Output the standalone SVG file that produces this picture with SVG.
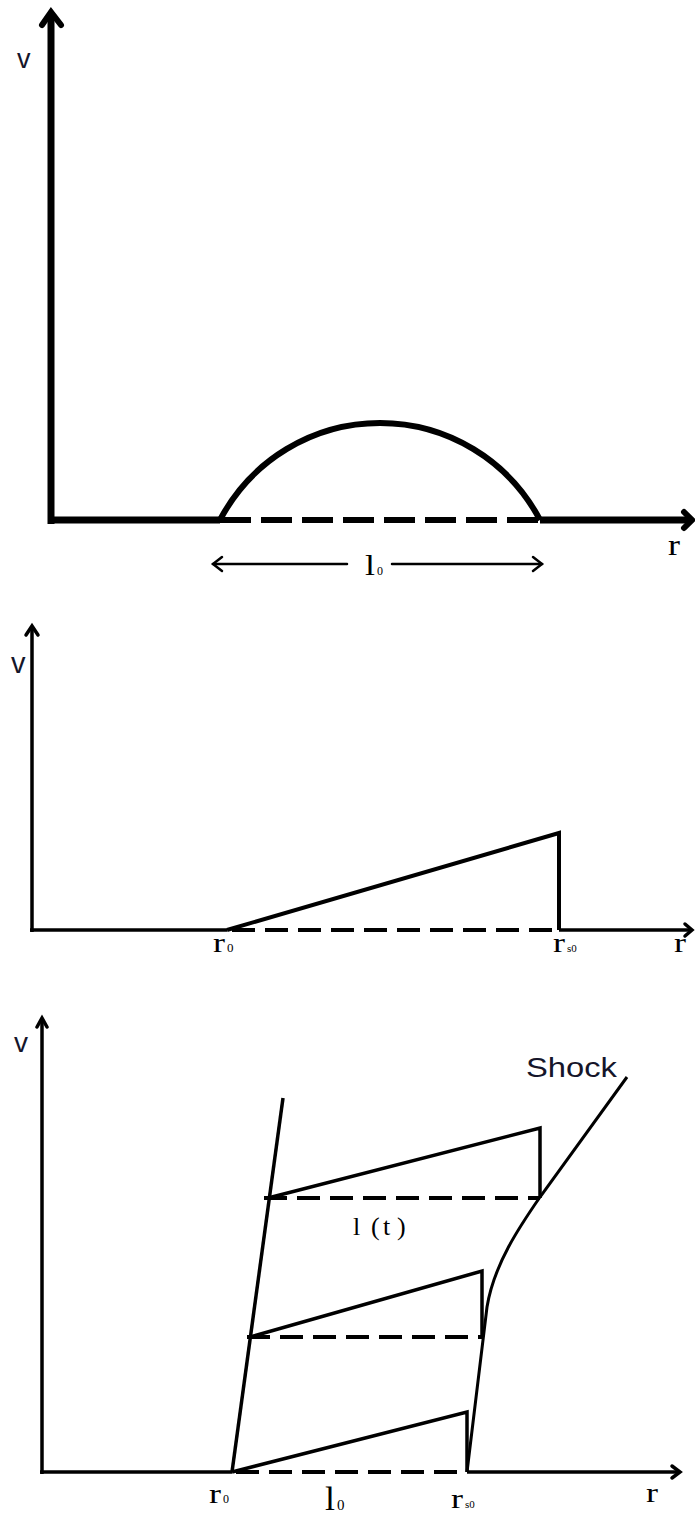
<svg xmlns="http://www.w3.org/2000/svg" width="695" height="1515" viewBox="0 0 695 1515">
<style>
.ax1{stroke:#000;stroke-width:7;fill:none;stroke-linecap:butt}
.ax{stroke:#000;stroke-width:3.5;fill:none}
.hd1{stroke:#000;stroke-width:6;fill:none;stroke-linejoin:miter;stroke-linecap:round}
.hd{stroke:#000;stroke-width:3.5;fill:none;stroke-linecap:round}
.ds1{stroke:#000;stroke-width:6;stroke-dasharray:31 10;fill:none}
.ds{stroke:#000;stroke-width:4;stroke-dasharray:23 10;fill:none}
.cv{stroke:#000;stroke-width:4;fill:none;stroke-linejoin:miter}
.dim{stroke:#000;stroke-width:2.5;fill:none;stroke-linecap:round}
.sv{font-family:"Liberation Sans",Arial,sans-serif;fill:#15152a}
.se{font-family:"Liberation Serif","Times New Roman",serif;fill:#000}
</style>
<g id="panel1">
  <g id="p1-axes">
    <line class="ax1" x1="51" y1="524" x2="51" y2="14"/>
    <polyline class="hd1" points="42,25 51,12 61,25"/>
    <line class="ax1" x1="48" y1="520" x2="220" y2="520"/>
    <line class="ax1" x1="540" y1="520" x2="690" y2="520"/>
    <polyline class="hd1" points="684,512 692,520 684,528"/>
  </g>
  <g id="p1-curve">
    <path class="cv" style="stroke-width:6" d="M220,520 A180.5,180.5 0 0 1 540,520"/>
    <line class="ds1" x1="220" y1="520" x2="540" y2="520"/>
  </g>
  <g id="p1-dim">
    <line class="dim" x1="213" y1="564" x2="347" y2="564"/>
    <line class="dim" x1="392" y1="564" x2="542" y2="564"/>
    <polyline class="dim" points="222,557 213,564 222,571"/>
    <polyline class="dim" points="533,557 542,564 533,571"/>
  </g>
  <text class="sv" x="17" y="68" font-size="27">v</text>
  <text class="se" x="668" y="555" font-size="29" textLength="12" lengthAdjust="spacingAndGlyphs">r</text>
  <text class="se" x="365" y="575" font-size="30" textLength="10" lengthAdjust="spacingAndGlyphs">l</text>
  <text class="se" x="377" y="575" font-size="12">0</text>
</g>
<g id="panel2">
  <g id="p2-axes">
    <line class="ax" x1="32" y1="932" x2="32" y2="627"/>
    <polyline class="hd" points="26,635 32,626 38,635"/>
    <line class="ax" x1="30" y1="930" x2="227" y2="930"/>
    <line class="ax" x1="559" y1="930" x2="691" y2="930"/>
    <polyline class="hd" points="685,924 692,930 685,936"/>
  </g>
  <g id="p2-profile">
    <polyline class="cv" points="227,930 559,833 559,930"/>
    <line class="ds" x1="232" y1="930" x2="557" y2="930"/>
  </g>
  <text class="sv" x="11" y="673" font-size="29">v</text>
  <text class="se" x="213" y="952" font-size="28" textLength="12" lengthAdjust="spacingAndGlyphs">r</text>
  <text class="se" x="227" y="952" font-size="13">0</text>
  <text class="se" x="553" y="952" font-size="28" textLength="12" lengthAdjust="spacingAndGlyphs">r</text>
  <text class="se" x="567" y="952" font-size="11">s0</text>
  <text class="se" x="674" y="952" font-size="28" textLength="12" lengthAdjust="spacingAndGlyphs">r</text>
</g>
<g id="panel3">
  <g id="p3-axes">
    <line class="ax" x1="42" y1="1474" x2="42" y2="1020"/>
    <polyline class="hd" points="37,1027 42,1018 47,1027"/>
    <line class="ax" x1="40" y1="1472" x2="232" y2="1472"/>
    <line class="ax" x1="467" y1="1472" x2="678" y2="1472"/>
    <polyline class="hd" points="672,1466 680,1472 672,1478"/>
  </g>
  <g id="p3-boundary">
    <line class="cv" style="stroke-width:3.5" x1="283" y1="1098" x2="232" y2="1472"/>
  </g>
  <g id="p3-shock">
    <path class="cv" style="stroke-width:3" d="M627,1077 L540,1197 C520,1226 494,1264 487,1307 L467,1472"/>
  </g>
  <g id="p3-profiles">
    <polyline class="cv" style="stroke-width:3.5" points="268,1198 540,1128 540,1198"/>
    <line class="ds" x1="264" y1="1198" x2="540" y2="1198"/>
    <polyline class="cv" style="stroke-width:3.5" points="250,1337 482,1271 482,1337"/>
    <line class="ds" x1="247" y1="1337" x2="482" y2="1337"/>
    <polyline class="cv" style="stroke-width:3.5" points="232,1472 467,1412 467,1472"/>
    <line class="ds" x1="236" y1="1472" x2="467" y2="1472"/>
  </g>
  <text class="sv" x="14" y="1052" font-size="28">v</text>
  <text class="sv" x="526" y="1077" font-size="28" textLength="91" lengthAdjust="spacingAndGlyphs">Shock</text>
  <text class="se" font-size="26" y="1235"><tspan x="353">l</tspan><tspan x="371">(</tspan><tspan x="383">t</tspan><tspan x="397">)</tspan></text>
  <text class="se" x="209" y="1503" font-size="28" textLength="12" lengthAdjust="spacingAndGlyphs">r</text>
  <text class="se" x="223" y="1503" font-size="12">0</text>
  <text class="se" x="325" y="1510" font-size="33" textLength="10" lengthAdjust="spacingAndGlyphs">l</text>
  <text class="se" x="337" y="1510" font-size="15">0</text>
  <text class="se" x="451" y="1508" font-size="28" textLength="12" lengthAdjust="spacingAndGlyphs">r</text>
  <text class="se" x="465" y="1508" font-size="11">s0</text>
  <text class="se" x="646" y="1502" font-size="28" textLength="12" lengthAdjust="spacingAndGlyphs">r</text>
</g>
</svg>
